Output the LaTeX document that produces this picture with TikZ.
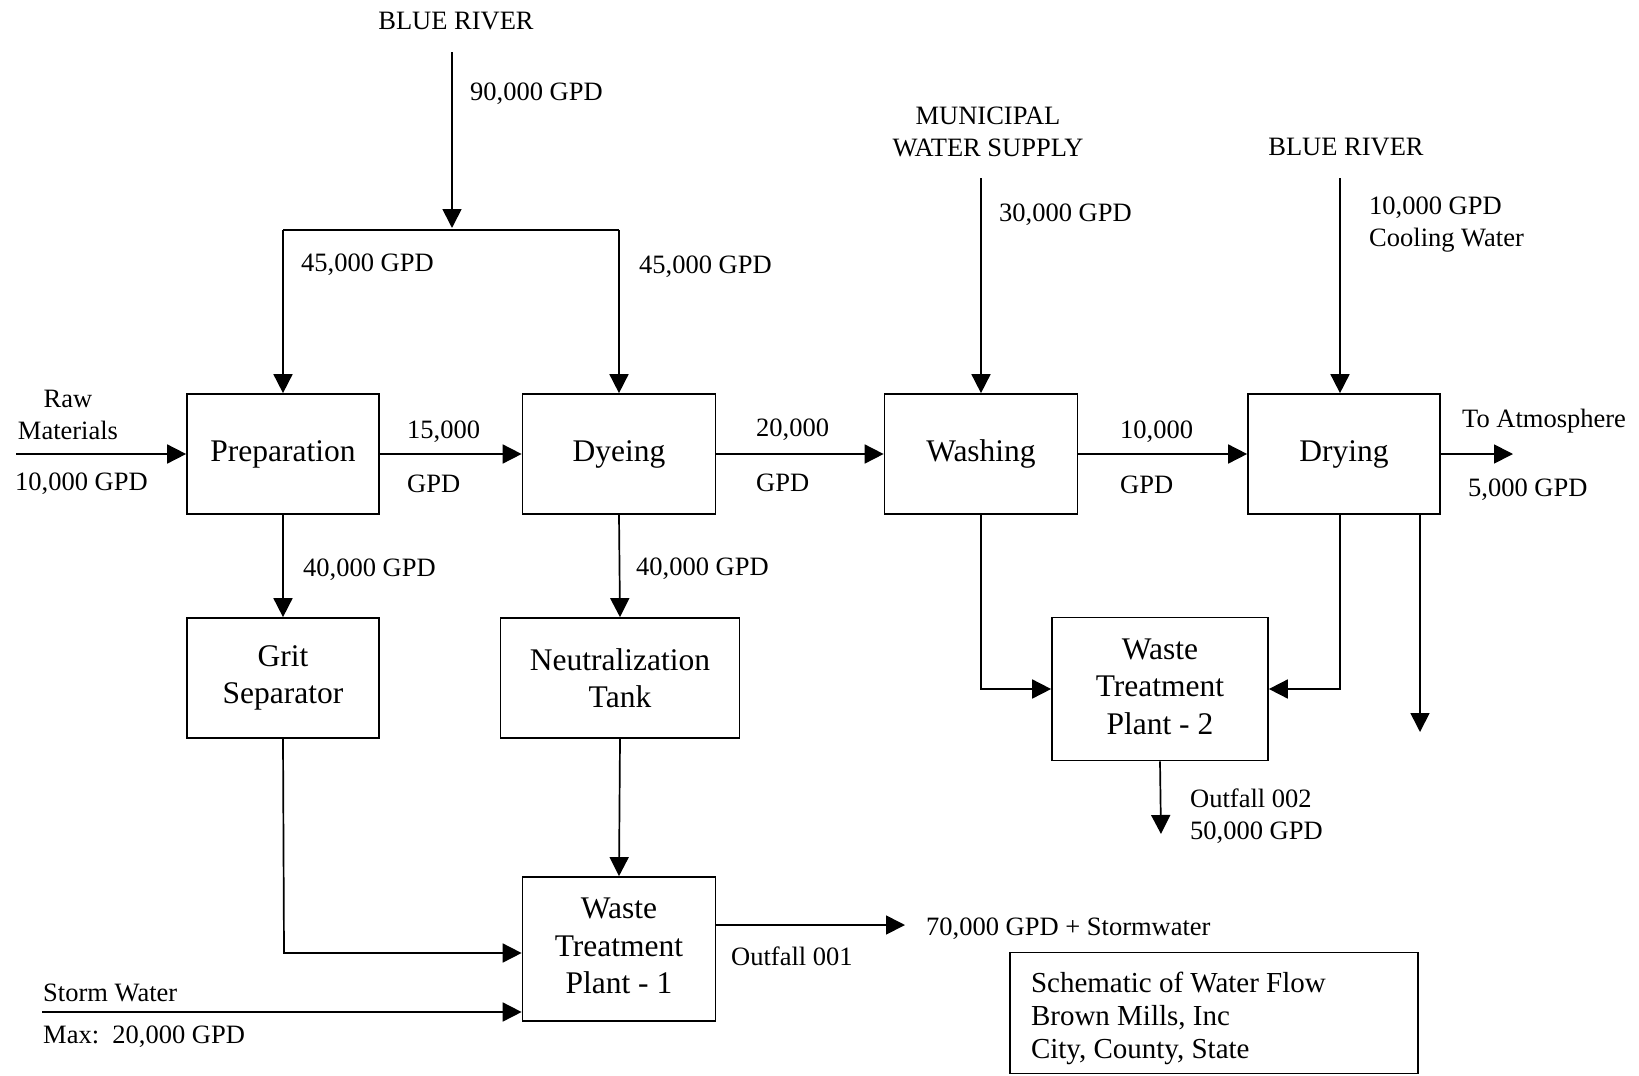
\documentclass[tikz,border=0pt]{standalone}
\usepackage{fontspec}
\setmainfont{Liberation Serif}
\usetikzlibrary{arrows.meta}
\newcommand{\shiftbox}[3]{\raisebox{#1}[\height][\depth]{\parbox{#2}{#3}}}
\begin{document}
\begin{tikzpicture}[x=1pt,y=-1pt,
  lbl/.style={inner sep=0pt,font=\fontsize{26.5}{32}\selectfont,align=left},
  lblc/.style={inner sep=0pt,font=\fontsize{26.5}{32}\selectfont,align=center},
  proc/.style={draw,line width=1.7pt,inner sep=0pt,align=center,
     font=\fontsize{31.5}{37.5}\selectfont,minimum height=120pt},
  arr/.style={line width=1.7pt,-{Triangle[length=19pt,width=19pt]}},
  ln/.style={line width=1.7pt}]
\useasboundingbox (0,0) rectangle (1639,1076);
% process boxes
\node[proc,minimum width=192pt] (prep) at (283,454) {Preparation};
\node[proc,minimum width=193pt] (dye) at (619,454) {Dyeing};
\node[proc,minimum width=193pt] (wash) at (981,454) {Washing};
\node[proc,minimum width=192pt] (dry) at (1344,454) {Drying};
\node[proc,minimum width=192pt] (grit) at (283,678) {Grit\\Separator};
\node[proc,minimum width=239pt] (neut) at (620,678) {Neutralization\\Tank};
\node[proc,minimum width=193pt,minimum height=144pt] (wtp1) at (619,949)
  {\shiftbox{3pt}{190pt}{\centering Waste\\Treatment\\Plant - 1}};
\node[proc,minimum width=216pt,minimum height=143pt] (wtp2) at (1160,689)
  {\shiftbox{2.5pt}{210pt}{\centering Waste\\Treatment\\Plant - 2}};
\node[draw,line width=1.7pt,minimum width=408pt,minimum height=121pt,
  inner xsep=21pt,font=\fontsize{29}{33}\selectfont] (legend) at (1214,1013)
  {\shiftbox{-5pt}{366pt}{Schematic of Water Flow\\Brown Mills, Inc\\City, County, State}};
% free ends
\coordinate (br1) at (452,52);
\coordinate (j1) at (452,228);
\coordinate (jL) at (283,230);
\coordinate (jR) at (619,230);
\coordinate (raw) at (16,454);
\coordinate (atm) at (1513,454);
\coordinate (mun) at (981,178);
\coordinate (br2) at (1340,178);
\coordinate (dryout) at (1420,732);
\coordinate (o2) at (1161,834);
\coordinate (g1) at (284,953);
\coordinate (st) at (42,1012);
\coordinate (o1) at (905,925);
% connectors
\draw[arr] (br1) -- (j1);
\draw[ln] (jL) -- (jR);
\draw[arr] (jL) -- (prep.north);
\draw[arr] (jR) -- (dye.north);
\draw[arr] (raw) -- (prep.west);
\draw[arr] (prep.east) -- (dye.west);
\draw[arr] (dye.east) -- (wash.west);
\draw[arr] (wash.east) -- (dry.west);
\draw[arr] (dry.east) -- (atm);
\draw[arr] (prep.south) -- (grit.north);
\draw[arr] (dye.south) -- (neut.north);
\draw[arr] (mun) -- (mun |- wash.north);
\draw[arr] (br2) -- (br2 |- dry.north);
\draw[arr] (wash.south) |- (wtp2.west);
\draw[arr] (br2 |- dry.south) |- (wtp2.east);
\draw[arr] (dryout |- dry.south) -- (dryout);
\draw[arr] (wtp2.south) -- (o2);
\draw[arr] (grit.south) -- (g1) -- (g1 -| wtp1.west);
\draw[arr] (neut.south) -- (wtp1.north);
\draw[arr] (st) -- (st -| wtp1.west);
\draw[arr] (o1 -| wtp1.east) -- (o1);
% labels
\node[lblc] (tBR1) at (456,21) {BLUE RIVER};
\node[lbl,anchor=west] (l90) at (470,94) {90,000 GPD};
\node[lbl,anchor=west] (l45a) at (301,265) {45,000 GPD};
\node[lbl,anchor=west] (l45b) at (639,267) {45,000 GPD};
\node[lblc] (lraw) at (68,415) {Raw\\Materials};
\node[lbl,anchor=west] (l10a) at (15,484) {10,000 GPD};
\node[lbl,anchor=west] (l15) at (407,432) {15,000};
\node[lbl,anchor=west] (l15g) at (407,484) {GPD};
\node[lbl,anchor=west] (l20) at (756,430) {20,000};
\node[lbl,anchor=west] (l20g) at (756,483) {GPD};
\node[lbl,anchor=west] (l10b) at (1120,432) {10,000};
\node[lbl,anchor=west] (l10bg) at (1120,485) {GPD};
\node[lbl,anchor=west] (latm) at (1462,421) {To Atmosphere};
\node[lbl,anchor=west] (l5) at (1468,490) {5,000 GPD};
\node[lbl,anchor=west] (l40a) at (303,570) {40,000 GPD};
\node[lbl,anchor=west] (l40b) at (636,569) {40,000 GPD};
\node[lblc] (lmun) at (988,132) {MUNICIPAL\\WATER SUPPLY};
\node[lbl,anchor=west] (l30) at (999,215) {30,000 GPD};
\node[lblc] (tBR2) at (1346,147) {BLUE RIVER};
\node[lbl,anchor=west] (lcool) at (1369,225) {10,000 GPD\\Cooling Water};
\node[lbl,anchor=west] (lo2) at (1190,816) {Outfall 002\\50,000 GPD};
\node[lbl,anchor=west] (lst) at (43,993) {Storm Water};
\node[lbl,anchor=west] (lmax) at (43,1037) {Max:\ \ 20,000 GPD};
\node[lbl,anchor=west] (l70) at (926,929) {70,000 GPD + Stormwater};
\node[lbl,anchor=west] (lo1) at (731,956) {Outfall 001};
\end{tikzpicture}
\end{document}
